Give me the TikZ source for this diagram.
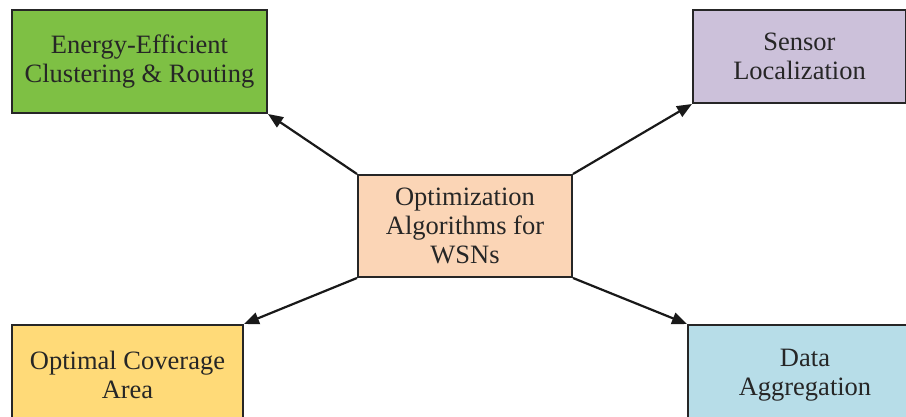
\documentclass[tikz,border=0pt]{standalone}
\usepackage{fontspec}
\setmainfont{Liberation Serif}
\usetikzlibrary{arrows.meta}

\definecolor{boxgreen}{RGB}{126,192,68}
\definecolor{boxlilac}{RGB}{204,193,218}
\definecolor{boxpeach}{RGB}{251,213,182}
\definecolor{boxyellow}{RGB}{255,218,120}
\definecolor{boxblue}{RGB}{183,221,232}

\begin{document}
\begin{tikzpicture}[x=1pt,y=-1pt]
\tikzset{
  topic/.style={draw=black!85,line width=2pt,align=center,inner sep=0pt,
    font=\fontsize{26.5}{29}\selectfont,text=black!85},
  link/.style={-{Triangle[length=15pt,width=12pt]},line width=2.2pt,black!90}
}
\useasboundingbox (0,0) rectangle (906,417);
\clip (0,0) rectangle (906,417);

% centre box
\node[topic,fill=boxpeach,minimum width=214pt,minimum height=102pt] (wsn) at (465,226)
  {Optimization\\Algorithms for\\WSNs};

% the four corner boxes
\node[topic,fill=boxgreen,minimum width=255pt,minimum height=103pt] (energy) at (139.5,61.5)
  {Energy-Efficient\\Clustering \& Routing};
\node[topic,fill=boxlilac,minimum width=213pt,minimum height=93pt] (sensor) at (799.5,56.5)
  {Sensor\\Localization};
\node[topic,fill=boxyellow,minimum width=231pt,minimum height=100pt] (coverage) at (127.5,375)
  {Optimal Coverage\\Area};
\node[topic,fill=boxblue,minimum width=234pt,minimum height=100pt] (aggreg) at (805,375)
  {Data\\Aggregation};

% arrows out of the corners
\draw[link] (wsn.north west) -- (energy.south east);
\draw[link] (wsn.north east) -- (sensor.south west);
\draw[link] (wsn.south west) -- (coverage.north east);
\draw[link] (wsn.south east) -- (aggreg.north west);
\end{tikzpicture}
\end{document}
